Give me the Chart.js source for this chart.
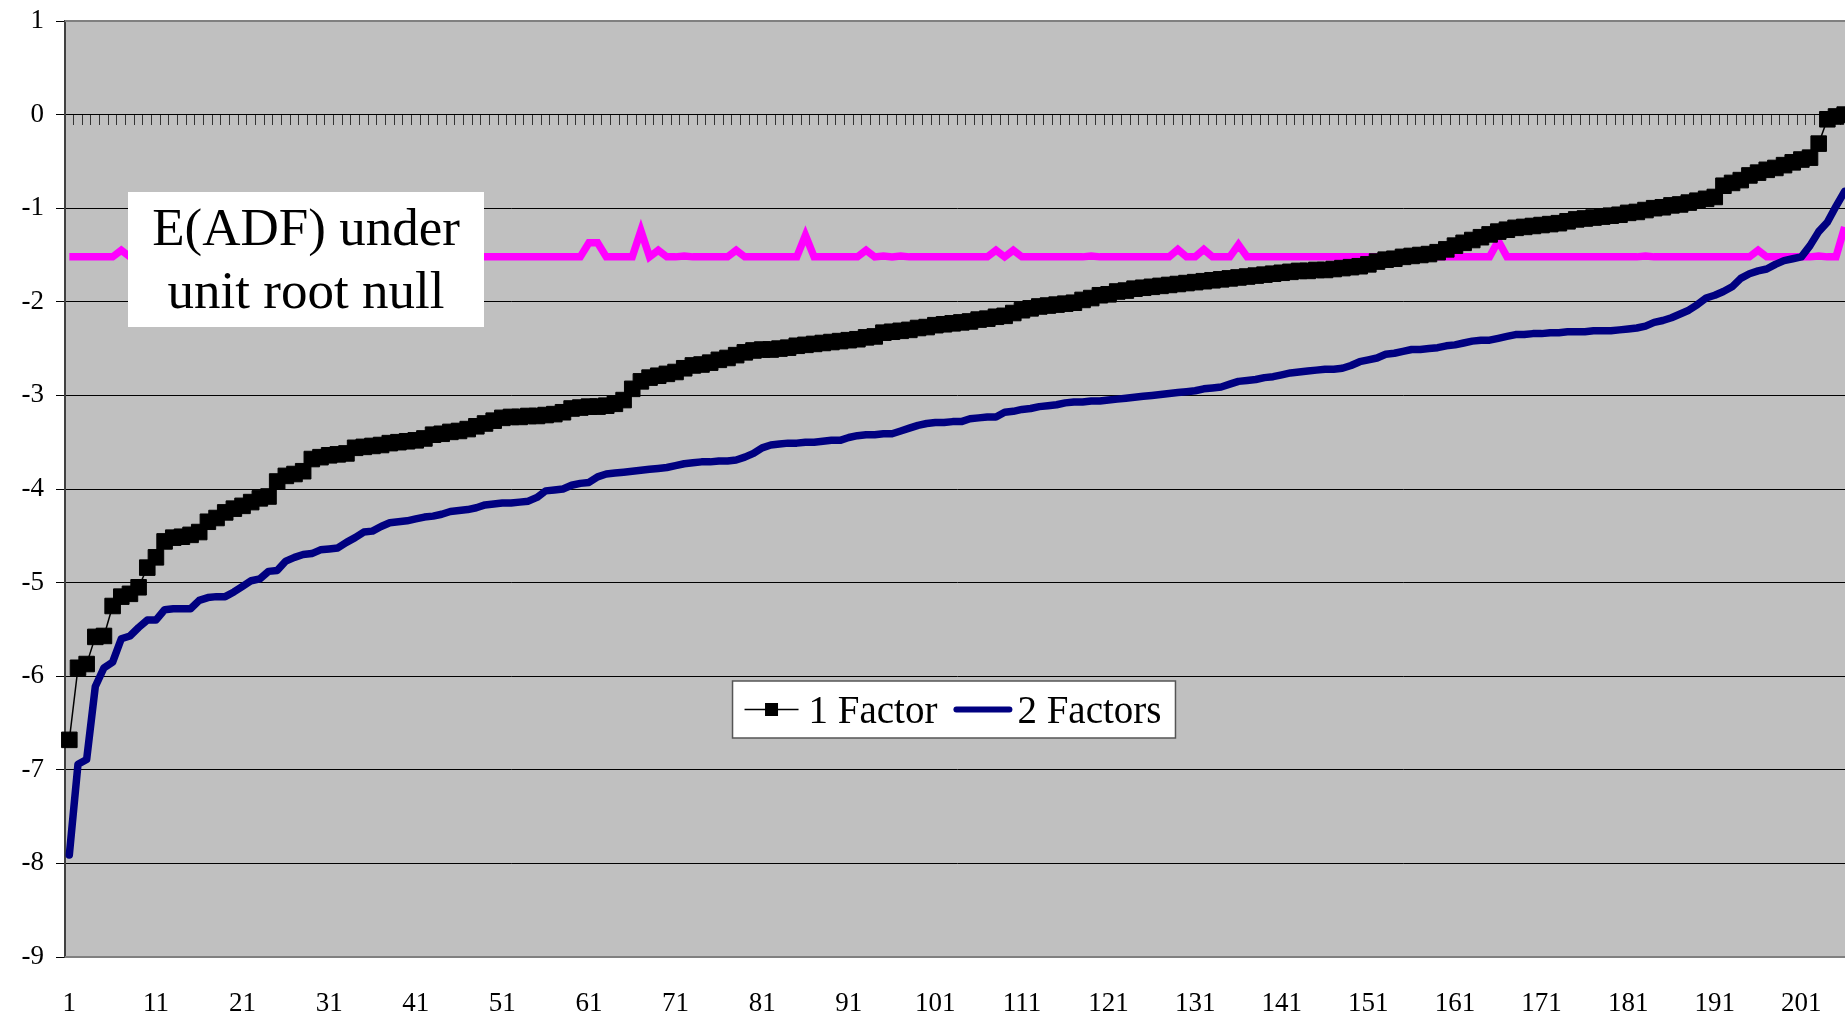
<!DOCTYPE html>
<html>
<head>
<meta charset="utf-8">
<title>E(ADF) under unit root null</title>
<script src="https://cdn.jsdelivr.net/npm/chart.js@4.4.1/dist/chart.umd.min.js"></script>
<style>
    html, body { margin: 0; padding: 0; background: #ffffff; overflow: hidden; }
    #wrap { position: relative; width: 1849px; height: 1021px; }
</style>
</head>
<body>
<div id="wrap"><canvas id="adfChart"></canvas></div>
<script>
// categories are just the rank of each statistic, 1..206
const categories = Array.from({ length: 206 }, (_, i) => String(i + 1));

const oneFactor = [
    -6.68, -5.91, -5.87, -5.58, -5.57, -5.25, -5.15, -5.12, -5.05, -4.84,
    -4.73, -4.56, -4.52, -4.51, -4.49, -4.46, -4.35, -4.31, -4.25, -4.21,
    -4.18, -4.14, -4.10, -4.08, -3.92, -3.86, -3.84, -3.81, -3.68, -3.66,
    -3.64, -3.63, -3.62, -3.56, -3.55, -3.54, -3.53, -3.51, -3.50, -3.49,
    -3.48, -3.46, -3.42, -3.41, -3.39, -3.38, -3.36, -3.33, -3.30, -3.27,
    -3.24, -3.23, -3.23, -3.22, -3.22, -3.21, -3.20, -3.18, -3.14, -3.13,
    -3.12, -3.12, -3.11, -3.09, -3.05, -2.93, -2.85, -2.81, -2.79, -2.77,
    -2.75, -2.71, -2.68, -2.67, -2.65, -2.62, -2.60, -2.57, -2.54, -2.52,
    -2.51, -2.51, -2.50, -2.49, -2.47, -2.46, -2.45, -2.44, -2.43, -2.42,
    -2.41, -2.40, -2.38, -2.37, -2.33, -2.32, -2.31, -2.30, -2.28, -2.27,
    -2.25, -2.24, -2.23, -2.22, -2.21, -2.19, -2.18, -2.16, -2.15, -2.12,
    -2.09, -2.07, -2.05, -2.04, -2.03, -2.02, -2.01, -1.98, -1.96, -1.93,
    -1.92, -1.89, -1.88, -1.86, -1.85, -1.84, -1.83, -1.82, -1.81, -1.80,
    -1.79, -1.78, -1.77, -1.76, -1.75, -1.74, -1.73, -1.72, -1.71, -1.70,
    -1.69, -1.68, -1.67, -1.67, -1.66, -1.66, -1.65, -1.64, -1.63, -1.62,
    -1.60, -1.57, -1.55, -1.54, -1.52, -1.51, -1.50, -1.49, -1.47, -1.44,
    -1.40, -1.37, -1.34, -1.31, -1.28, -1.25, -1.23, -1.21, -1.20, -1.19,
    -1.18, -1.17, -1.16, -1.14, -1.12, -1.11, -1.10, -1.09, -1.08, -1.07,
    -1.05, -1.04, -1.02, -1.00, -0.99, -0.97, -0.96, -0.94, -0.92, -0.90,
    -0.88, -0.76, -0.73, -0.70, -0.65, -0.62, -0.59, -0.57, -0.54, -0.51,
    -0.48, -0.46, -0.31, -0.05, -0.02, 0.00
];

const twoFactors = [
    -7.91, -6.94, -6.89, -6.11, -5.91, -5.85, -5.60, -5.57, -5.48, -5.40,
    -5.40, -5.29, -5.28, -5.28, -5.28, -5.19, -5.16, -5.15, -5.15, -5.10,
    -5.04, -4.98, -4.96, -4.88, -4.87, -4.77, -4.73, -4.70, -4.69, -4.65,
    -4.64, -4.63, -4.57, -4.52, -4.46, -4.45, -4.40, -4.36, -4.35, -4.34,
    -4.32, -4.30, -4.29, -4.27, -4.24, -4.23, -4.22, -4.20, -4.17, -4.16,
    -4.15, -4.15, -4.14, -4.13, -4.09, -4.02, -4.01, -4.00, -3.96, -3.94,
    -3.93, -3.87, -3.84, -3.83, -3.82, -3.81, -3.80, -3.79, -3.78, -3.77,
    -3.75, -3.73, -3.72, -3.71, -3.71, -3.70, -3.70, -3.69, -3.66, -3.62,
    -3.56, -3.53, -3.52, -3.51, -3.51, -3.50, -3.50, -3.49, -3.48, -3.48,
    -3.45, -3.43, -3.42, -3.42, -3.41, -3.41, -3.38, -3.35, -3.32, -3.30,
    -3.29, -3.29, -3.28, -3.28, -3.25, -3.24, -3.23, -3.23, -3.18, -3.17,
    -3.15, -3.14, -3.12, -3.11, -3.10, -3.08, -3.07, -3.07, -3.06, -3.06,
    -3.05, -3.04, -3.03, -3.02, -3.01, -3.00, -2.99, -2.98, -2.97, -2.96,
    -2.95, -2.93, -2.92, -2.91, -2.88, -2.85, -2.84, -2.83, -2.81, -2.80,
    -2.78, -2.76, -2.75, -2.74, -2.73, -2.72, -2.72, -2.71, -2.68, -2.64,
    -2.62, -2.60, -2.56, -2.55, -2.53, -2.51, -2.51, -2.50, -2.49, -2.47,
    -2.46, -2.44, -2.42, -2.41, -2.41, -2.39, -2.37, -2.35, -2.35, -2.34,
    -2.34, -2.33, -2.33, -2.32, -2.32, -2.32, -2.31, -2.31, -2.31, -2.30,
    -2.29, -2.28, -2.26, -2.22, -2.20, -2.17, -2.13, -2.09, -2.03, -1.96,
    -1.93, -1.89, -1.84, -1.75, -1.70, -1.67, -1.65, -1.60, -1.56, -1.54,
    -1.52, -1.40, -1.25, -1.15, -0.98, -0.82
];

// expected ADF under the unit root null
const nullMean = [
    -1.52, -1.52, -1.52, -1.52, -1.52, -1.52, -1.45, -1.52, -1.52, -1.52,
    -1.52, -1.52, -1.52, -1.52, -1.52, -1.52, -1.52, -1.52, -1.52, -1.52,
    -1.52, -1.52, -1.52, -1.52, -1.52, -1.52, -1.52, -1.52, -1.52, -1.52,
    -1.52, -1.52, -1.52, -1.52, -1.52, -1.52, -1.52, -1.52, -1.52, -1.52,
    -1.52, -1.52, -1.52, -1.52, -1.52, -1.52, -1.52, -1.52, -1.52, -1.52,
    -1.52, -1.52, -1.52, -1.52, -1.52, -1.52, -1.52, -1.52, -1.52, -1.52,
    -1.37, -1.37, -1.52, -1.52, -1.52, -1.52, -1.24, -1.52, -1.45, -1.52,
    -1.52, -1.51, -1.52, -1.52, -1.52, -1.52, -1.52, -1.45, -1.52, -1.52,
    -1.52, -1.52, -1.52, -1.52, -1.52, -1.29, -1.52, -1.52, -1.52, -1.52,
    -1.52, -1.52, -1.45, -1.52, -1.51, -1.52, -1.51, -1.52, -1.52, -1.52,
    -1.52, -1.52, -1.52, -1.52, -1.52, -1.52, -1.52, -1.45, -1.52, -1.45,
    -1.52, -1.52, -1.52, -1.52, -1.52, -1.52, -1.52, -1.52, -1.51, -1.52,
    -1.52, -1.52, -1.52, -1.52, -1.52, -1.52, -1.52, -1.52, -1.44, -1.52,
    -1.52, -1.44, -1.52, -1.52, -1.52, -1.39, -1.52, -1.52, -1.52, -1.52,
    -1.52, -1.52, -1.52, -1.52, -1.52, -1.52, -1.52, -1.52, -1.52, -1.52,
    -1.52, -1.52, -1.52, -1.52, -1.52, -1.52, -1.52, -1.52, -1.52, -1.52,
    -1.52, -1.52, -1.52, -1.52, -1.52, -1.35, -1.52, -1.52, -1.52, -1.52,
    -1.52, -1.52, -1.52, -1.52, -1.52, -1.52, -1.52, -1.52, -1.52, -1.52,
    -1.52, -1.52, -1.51, -1.52, -1.52, -1.52, -1.52, -1.52, -1.52, -1.52,
    -1.52, -1.52, -1.52, -1.52, -1.52, -1.45, -1.52, -1.52, -1.52, -1.52,
    -1.52, -1.52, -1.51, -1.52, -1.52, -1.20
];

const yMin = -9;
const yMax = 1;
const labelEvery = 10;
const noteLines = ['E(ADF) under', 'unit root null'];

const serif = '"Liberation Serif", "Times New Roman", serif';

/**
 * @description Grey plot area with the excel style frame.
 */
const plotFrame =
{
    id: 'plotFrame',
    beforeDraw(chart)
    {
        const {ctx, chartArea: a} = chart;
        ctx.save();
        ctx.fillStyle = '#c0c0c0';
        ctx.fillRect(a.left, a.top, a.right - a.left, a.bottom - a.top);
        ctx.restore();
    },
    beforeDatasetsDraw(chart)
    {
        const {ctx, chartArea: a} = chart;
        ctx.save();
        ctx.strokeStyle = '#808080';
        ctx.lineWidth = 2;
        ctx.beginPath();
        ctx.moveTo(a.left, a.top);
        ctx.lineTo(a.right, a.top);
        ctx.moveTo(a.left, a.bottom);
        ctx.lineTo(a.right, a.bottom);
        ctx.stroke();
        ctx.restore();
    }
};

/**
 * @description White text box naming the magenta line.
 */
const noteBox =
{
    id: 'noteBox',
    afterDatasetsDraw(chart)
    {
        const {ctx, chartArea: a} = chart;
        const left = a.left + 63;
        const top = a.top + 171;
        const w = 356;
        const h = 135;
        ctx.save();
        ctx.fillStyle = '#ffffff';
        ctx.fillRect(left, top, w, h);
        ctx.fillStyle = '#000000';
        ctx.font = '53px ' + serif;
        ctx.textAlign = 'center';
        ctx.textBaseline = 'alphabetic';
        ctx.fillText(noteLines[0], left + w / 2, top + 53);
        ctx.fillText(noteLines[1], left + w / 2, top + 116);
        ctx.restore();
    }
};

/**
 * @description Boxed legend in the middle of the plot, built from the datasets.
 */
const boxedLegend =
{
    id: 'boxedLegend',
    afterDraw(chart)
    {
        const {ctx, chartArea: a} = chart;
        const entries = chart.data.datasets.filter(ds => ds.inLegend);
        ctx.save();
        ctx.font = '39px ' + serif;
        const widths = entries.map(ds => ctx.measureText(ds.label).width);
        const boxW = 12 + 14 + entries.length * 64 + widths.reduce((s, v) => s + v, 0) + (entries.length - 1) * 16;
        const boxH = 57;
        const left = (a.left + a.right) / 2 - 3 - boxW / 2;
        const top = a.top + 660;
        const midY = top + 28.5;

        ctx.fillStyle = '#ffffff';
        ctx.fillRect(left, top, boxW, boxH);
        ctx.strokeStyle = '#555555';
        ctx.lineWidth = 1.5;
        ctx.strokeRect(left, top, boxW, boxH);

        let x = left + 12;
        entries.forEach((ds, i) =>
        {
            const marked = ds.pointRadius > 0;
            ctx.strokeStyle = ds.borderColor;
            ctx.lineWidth = ds.legendLineWidth;
            ctx.lineCap = marked ? 'butt' : 'round';
            ctx.beginPath();
            ctx.moveTo(x + (marked ? 0 : 3), midY);
            ctx.lineTo(x + (marked ? 54 : 56), midY);
            ctx.stroke();
            if (marked)
            {
                ctx.fillStyle = ds.pointBackgroundColor;
                ctx.fillRect(x + 27 - 6.5, midY - 6.5, 13, 13);
            }
            ctx.fillStyle = '#000000';
            ctx.textAlign = 'left';
            ctx.textBaseline = 'alphabetic';
            ctx.fillText(ds.label, x + 64, top + 42);
            x += 64 + widths[i] + 16;
        });
        ctx.restore();
    }
};

function CreateChart(chartId)
{
    let defaults = Chart.defaults;
    defaults.animation = false;
    defaults.responsive = true;
    defaults.maintainAspectRatio = false;
    defaults.font.family = serif;
    defaults.color = '#000000';

    const ctx = document.getElementById(chartId);
    return new Chart(ctx,
        {
            type: 'line',
            data:
                {
                    labels: categories,
                    datasets:
                        [
                            {
                                label: '1 Factor',
                                data: oneFactor,
                                xAxisID: 'x',
                                borderColor: '#000000',
                                borderWidth: 1.5,
                                pointStyle: 'rect',
                                pointRadius: 11,
                                pointBorderWidth: 1,
                                pointBackgroundColor: '#000000',
                                pointBorderColor: '#000000',
                                tension: 0,
                                clip: false,
                                inLegend: true,
                                legendLineWidth: 1.5
                            },
                            {
                                label: '2 Factors',
                                data: twoFactors,
                                xAxisID: 'x',
                                borderColor: '#000080',
                                borderWidth: 7.5,
                                pointRadius: 0,
                                tension: 0,
                                borderJoinStyle: 'round',
                                borderCapStyle: 'round',
                                inLegend: true,
                                legendLineWidth: 6
                            },
                            {
                                label: 'E(ADF) under unit root null',
                                data: nullMean,
                                xAxisID: 'x',
                                borderColor: '#ff00ff',
                                borderWidth: 7.5,
                                pointRadius: 0,
                                tension: 0,
                                borderJoinStyle: 'miter',
                                inLegend: false
                            }
                        ]
                },
            options:
                {
                    events: [],
                    layout:
                        {
                            autoPadding: false,
                            padding: { top: 21, left: 0, right: 0, bottom: 0 }
                        },
                    scales:
                        {
                            // category axis crossing at y = 0, only its tick marks
                            x:
                                {
                                    type: 'category',
                                    position: { y: 0 },
                                    offset: true,
                                    grid:
                                        {
                                            offset: true,
                                            drawOnChartArea: false,
                                            drawTicks: true,
                                            tickLength: 10,
                                            color: '#333333',
                                            lineWidth: 1
                                        },
                                    border: { display: true, color: '#000000', width: 1 },
                                    ticks: { display: false, autoSkip: false }
                                },
                            // labels sit at the bottom of the plot
                            xl:
                                {
                                    type: 'category',
                                    axis: 'x',
                                    position: 'bottom',
                                    offset: true,
                                    grid: { display: false, drawTicks: false },
                                    border: { display: false },
                                    ticks:
                                        {
                                            autoSkip: false,
                                            maxRotation: 0,
                                            padding: 31,
                                            color: '#000000',
                                            font: { size: 27 },
                                            callback: function (value, index)
                                            {
                                                return index % labelEvery === 0 ? this.getLabelForValue(value) : '';
                                            }
                                        },
                                    afterFit: function (scale)
                                    {
                                        scale.height = 64;
                                        scale.paddingLeft = 0;
                                        scale.paddingRight = 0;
                                    }
                                },
                            y:
                                {
                                    min: yMin,
                                    max: yMax,
                                    ticks:
                                        {
                                            stepSize: 1,
                                            padding: 12,
                                            color: '#000000',
                                            font: { size: 27 }
                                        },
                                    grid:
                                        {
                                            color: '#000000',
                                            lineWidth: 1,
                                            drawTicks: true,
                                            tickLength: 9
                                        },
                                    border: { display: true, color: '#404040', width: 2 },
                                    afterFit: function (scale)
                                    {
                                        scale.width = 65;
                                        scale.paddingTop = 0;
                                        scale.paddingBottom = 0;
                                    }
                                }
                        },
                    plugins:
                        {
                            legend: { display: false },
                            tooltip: { enabled: false },
                            title: { display: false }
                        }
                },
            plugins: [plotFrame, noteBox, boxedLegend]
        });
}

CreateChart('adfChart');
</script>
</body>
</html>
